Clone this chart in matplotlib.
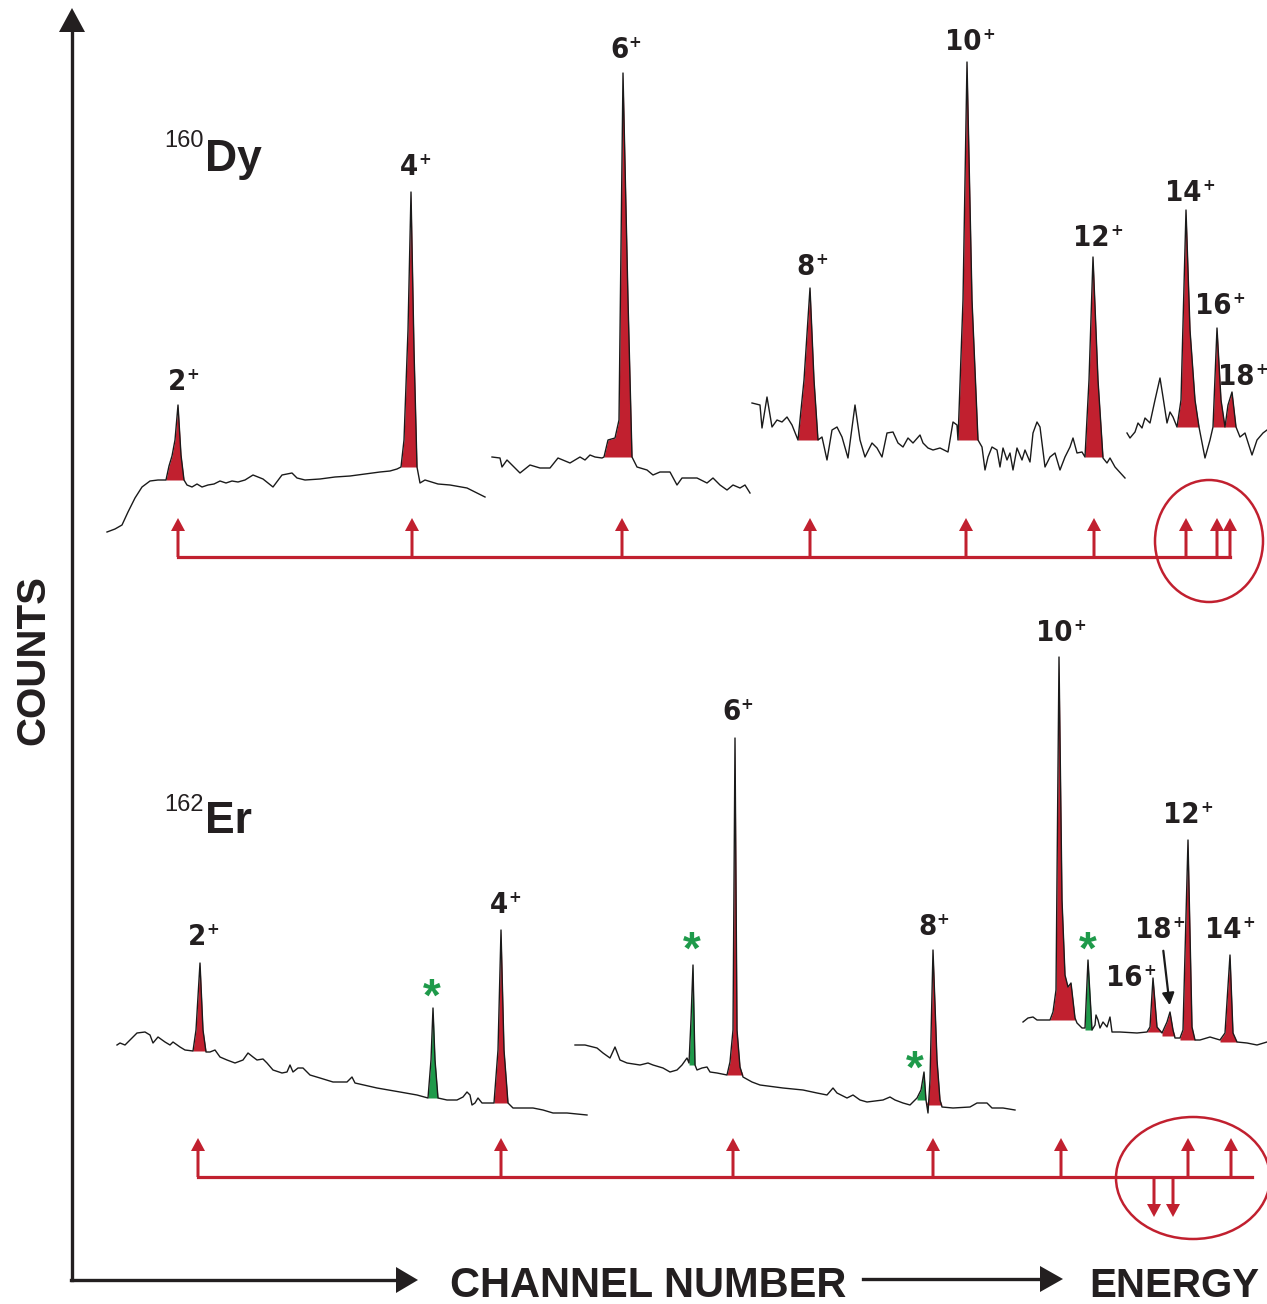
import numpy as np
import matplotlib.pyplot as plt
from matplotlib.patches import Ellipse

plt.rcParams['font.family'] = ['Liberation Sans', 'DejaVu Sans']

RED = '#c1202f'
GREEN = '#1e9a4a'
INK = '#231f20'

# --- 160Dy spectrum (picture units: x = channel, y = counts drawn downward) ---
dy_seg1_x = [107, 115, 122, 128, 135, 142, 150, 158, 166, 169, 172, 175, 178, 181, 184,
             187, 192, 197, 202, 208, 214, 220, 226, 232, 238, 245, 253, 263, 273, 282, 292,
             297, 305, 320, 335, 350, 365, 380, 390, 397, 401, 404, 408, 411, 414, 417,
             420, 425, 438, 450, 467, 477, 485]
dy_seg1_y = [532, 529, 525, 512, 498, 487, 481, 480, 480, 466, 456, 440, 405, 455, 480,
             485, 487, 484, 487, 485, 484, 481, 483, 481, 482, 480, 475, 479, 487, 475, 473,
             478, 480, 479, 477, 476, 474, 472, 471, 469, 467, 440, 330, 192, 350, 467,
             483, 480, 484, 485, 488, 493, 497]

dy_seg2_x = [492, 500, 502, 507, 520, 530, 540, 550, 558, 570, 580, 585, 590, 595, 602,
             604, 608, 615, 619, 623, 628, 632, 637, 647, 653, 660, 670, 677, 682, 697,
             707, 713, 720, 727, 733, 740, 745, 750]
dy_seg2_y = [457, 458, 467, 460, 473, 465, 468, 468, 458, 463, 457, 460, 455, 457, 458,
             457, 440, 438, 420, 73, 300, 457, 467, 470, 475, 472, 472, 485, 478, 478,
             483, 478, 485, 490, 485, 488, 485, 493]

dy_seg3_x = [752, 760, 762, 767, 772, 777, 782, 787, 792, 798, 804, 810, 814, 818,
             822, 827, 832, 837, 842, 848, 855, 860, 865, 872, 877, 882, 887, 893, 898, 903,
             908, 913, 920, 923, 928, 933, 940, 948, 953, 957, 958, 963, 967, 972, 978,
             982, 985, 988, 992, 997, 1000, 1003, 1007, 1010, 1013, 1017, 1022, 1025, 1030,
             1033, 1037, 1040, 1045, 1050, 1055, 1060, 1065, 1070, 1073, 1077, 1082, 1085,
             1089, 1093, 1098, 1103, 1107, 1110, 1115, 1125]
dy_seg3_y = [403, 405, 428, 397, 427, 420, 422, 417, 425, 440, 380, 288, 380, 440,
             437, 460, 430, 427, 437, 458, 405, 440, 457, 443, 448, 457, 433, 432, 443, 447,
             438, 443, 435, 443, 448, 450, 448, 452, 422, 425, 440, 300, 62, 300, 440,
             447, 470, 457, 447, 450, 467, 448, 460, 453, 470, 448, 460, 450, 462,
             433, 422, 427, 467, 457, 453, 470, 457, 447, 438, 453, 452, 457,
             380, 257, 380, 458, 463, 458, 467, 478]

dy_seg4_x = [1127, 1130, 1135, 1138, 1142, 1145, 1150, 1155, 1160, 1163, 1167, 1170, 1173,
             1177, 1181, 1186, 1190, 1195, 1199, 1205, 1210, 1213, 1217, 1221, 1225, 1228,
             1232, 1236, 1240, 1245, 1252, 1257, 1263, 1267]
dy_seg4_y = [433, 438, 432, 423, 428, 418, 423, 400, 378, 397, 423, 412, 417,
             427, 400, 210, 330, 400, 427, 458, 440, 427, 328, 400, 427, 405,
             392, 427, 437, 433, 455, 440, 433, 430]

dy_segments = [(dy_seg1_x, dy_seg1_y), (dy_seg2_x, dy_seg2_y),
               (dy_seg3_x, dy_seg3_y), (dy_seg4_x, dy_seg4_y)]

dy_peak_lo = [166, 401, 604, 798, 958, 1085, 1177, 1213, 1225]
dy_peak_hi = [184, 417, 632, 818, 978, 1103, 1199, 1225, 1236]
dy_peak_base = [480, 467, 457, 440, 440, 457, 427, 427, 427]

dy_labels = ['2', '4', '6', '8', '10', '12', '14', '16', '18']
dy_label_x = [177, 409, 619, 806, 963, 1091, 1183, 1213, 1236]
dy_label_y = [382, 167, 50, 267, 42, 238, 193, 306, 377]

dy_arrow_x = [178, 412, 622, 810, 966, 1094, 1186, 1217, 1230]

# --- 162Er spectrum ---
er_seg1_x = [117, 120, 125, 132, 137, 145, 150, 153, 158, 165, 170, 173, 180, 185, 193,
             196, 200, 203, 206, 210, 215, 220, 227, 235, 243, 248, 253, 257, 263, 267,
             273, 282, 287, 290, 293, 298, 303, 310, 320, 333, 347, 352, 355, 377, 400,
             417, 428, 431, 433, 435, 438, 447, 457, 463, 467, 470, 472, 475, 478, 482,
             494, 498, 501, 504, 508, 513, 533, 543, 553, 567, 587]
er_seg1_y = [1045, 1043, 1045, 1038, 1033, 1032, 1035, 1043, 1037, 1042, 1045, 1042, 1047,
             1050, 1051, 1030, 963, 1030, 1052, 1052, 1050, 1057, 1060, 1063, 1060, 1053,
             1057, 1060, 1059, 1063, 1070, 1073, 1072, 1065, 1072, 1068, 1068, 1075, 1078,
             1082, 1082, 1077, 1083, 1088, 1092, 1095, 1098, 1060, 1008, 1060, 1098, 1100,
             1100, 1097, 1092, 1095, 1105, 1103, 1098, 1103, 1103, 1050, 930, 1050, 1103,
             1108, 1108, 1110, 1113, 1113, 1115]

er_seg2_x = [575, 585, 597, 603, 610, 615, 620, 627, 640, 648, 653, 663, 670, 677, 682,
             687, 689, 691, 693, 695, 697, 702, 707, 710, 717, 727, 730, 733, 735, 737,
             740, 743, 752, 760, 783, 803, 817, 827, 833, 837, 847, 853, 860, 867, 883,
             890, 895, 903, 910, 917, 921, 924, 926, 928, 930, 933, 937, 940, 942, 953,
             970, 977, 987, 992, 1003, 1015]
er_seg2_y = [1045, 1045, 1048, 1053, 1058, 1047, 1060, 1063, 1065, 1063, 1065, 1068, 1072,
             1070, 1065, 1058, 1063, 1020, 965, 1065, 1070, 1068, 1067, 1072, 1073, 1075,
             1062, 1030, 738, 1030, 1067, 1077, 1082, 1085, 1088, 1090, 1093, 1095, 1088,
             1093, 1098, 1095, 1100, 1102, 1100, 1097, 1100, 1103, 1105, 1098, 1090, 1072,
             1100, 1113, 1080, 950, 1060, 1100, 1107, 1108, 1107, 1103, 1103, 1108, 1108,
             1110]

er_seg3_x = [1023, 1028, 1033, 1037, 1050, 1053, 1056, 1059, 1062, 1065, 1068, 1071, 1075,
             1077, 1082, 1085, 1088, 1092, 1095, 1096, 1098, 1100, 1103, 1107, 1110, 1112,
             1120, 1137, 1147, 1150, 1153, 1157, 1162, 1167, 1170, 1173, 1175, 1180, 1183,
             1188, 1192, 1195, 1200, 1210, 1220, 1225, 1230, 1233, 1237, 1247, 1257, 1267]
er_seg3_y = [1022, 1018, 1017, 1020, 1020, 1012, 990, 657, 900, 975, 987, 983, 1018,
             1023, 1028, 1028, 960, 1030, 1025, 1015, 1020, 1028, 1022, 1027, 1017, 1032,
             1032, 1033, 1032, 1027, 978, 1027, 1033, 1022, 1012, 1030, 1038, 1038, 1030,
             840, 1027, 1040, 1040, 1037, 1040, 1033, 955, 1033, 1042, 1043, 1045, 1042]

er_segments = [(er_seg1_x, er_seg1_y), (er_seg2_x, er_seg2_y), (er_seg3_x, er_seg3_y)]

er_peak_lo = [193, 428, 494, 689, 727, 917, 926, 1050, 1085, 1147, 1162, 1180, 1220]
er_peak_hi = [206, 438, 508, 695, 743, 926, 942, 1075, 1092, 1162, 1175, 1195, 1237]
er_peak_base = [1051, 1098, 1103, 1065, 1075, 1100, 1105, 1020, 1030, 1032, 1036, 1040, 1042]
er_peak_green = [False, True, False, True, False, True, False, False, True, False, False,
                 False, False]

er_labels = ['2', '4', '6', '8', '10', '12', '14', '16', '18']
er_label_x = [197, 499, 731, 927, 1054, 1181, 1223, 1124, 1153]
er_label_y = [937, 905, 712, 927, 633, 815, 930, 978, 930]

er_star_x = [432, 692, 915, 1088]
er_star_y = [990, 943, 1062, 943]

er_up_x = [198, 501, 733, 933, 1061, 1188, 1231]
er_down_x = [1154, 1173]


fig = plt.figure(figsize=(12.67, 13.04), dpi=100)
ax = fig.add_axes([0, 0, 1, 1])
ax.set_xlim(0, 1267)
ax.set_ylim(1304, 0)
ax.axis('off')


def draw_spectrum(segments, lo, hi, base, colors):
    for sx, sy in segments:
        sx = np.array(sx, dtype=float)
        sy = np.array(sy, dtype=float)
        for l, h, b, c in zip(lo, hi, base, colors):
            m = (sx >= l) & (sx <= h)
            if m.sum() >= 2:
                ax.fill_between(sx[m], np.minimum(sy[m], b), b, color=c, lw=0, zorder=2)
        ax.plot(sx, sy, color='#1a1a1a', lw=1.0, zorder=3)


def peak_label(x, y, n):
    t = ax.text(x, y, n, ha='center', va='center', fontsize=21, fontweight='bold',
                family='DejaVu Sans', fontstretch='condensed', color=INK)
    ax.annotate('+', xy=(1.0, 0.78), xycoords=t, xytext=(0.5, 0),
                textcoords='offset points', ha='left', va='center', fontsize=11,
                fontweight='bold', family='DejaVu Sans', color=INK)


def red_arrow(x, y0, y1):
    ax.arrow(x, y0, 0, y1 - y0, width=3, head_width=14, head_length=13,
             length_includes_head=True, color=RED, lw=0, zorder=4)


# spectra
draw_spectrum(dy_segments, dy_peak_lo, dy_peak_hi, dy_peak_base, [RED] * len(dy_peak_lo))
draw_spectrum(er_segments, er_peak_lo, er_peak_hi, er_peak_base,
              [GREEN if g else RED for g in er_peak_green])

for x, y, n in zip(dy_label_x, dy_label_y, dy_labels):
    peak_label(x, y, n)
for x, y, n in zip(er_label_x, er_label_y, er_labels):
    peak_label(x, y, n)

for x, y in zip(er_star_x, er_star_y):
    ax.text(x, y + 9, '*', ha='center', va='center', fontsize=33, fontweight='bold',
            color=GREEN)

ax.annotate('', xy=(1170, 1008), xytext=(1163, 948),
            arrowprops=dict(arrowstyle='-|>', color='#1a1a1a', lw=1.6, mutation_scale=18))

# isotope names
ax.text(204, 147, '160', ha='right', va='baseline', fontsize=17, color=INK)
ax.text(205, 171, 'Dy', ha='left', va='baseline', fontsize=32, fontweight='bold',
        color=INK)
ax.text(204, 811, '162', ha='right', va='baseline', fontsize=17, color=INK)
ax.text(205, 833, 'Er', ha='left', va='baseline', fontsize=32, fontweight='bold',
        color=INK)

# level-scheme lines with transition arrows
ax.plot([dy_arrow_x[0], max(dy_arrow_x)], [557, 557], color=RED, lw=2.3, zorder=4)
for x in dy_arrow_x:
    red_arrow(x, 557, 518)
ax.add_patch(Ellipse((1209, 541), 108, 122, fill=False, ec=RED, lw=1.8))

ax.plot([er_up_x[0], 1252], [1177, 1177], color=RED, lw=2.3, zorder=4)
for x in er_up_x:
    red_arrow(x, 1177, 1138)
for x in er_down_x:
    red_arrow(x, 1177, 1217)
ax.add_patch(Ellipse((1193, 1178), 154, 122, fill=False, ec=RED, lw=1.8))

# axes arrows
ax.plot([72, 72], [1280, 30], color=INK, lw=2.4)
ax.plot([71, 400], [1280, 1280], color=INK, lw=2.4)
ax.arrow(72, 40, 0, -32, width=0, head_width=26, head_length=24,
         length_includes_head=True, color=INK, lw=0)
ax.arrow(390, 1280, 28, 0, width=0, head_width=26, head_length=22,
         length_includes_head=True, color=INK, lw=0)
ax.plot([863, 1045], [1279, 1279], color=INK, lw=2.4)
ax.arrow(1035, 1279, 28, 0, width=0, head_width=26, head_length=23,
         length_includes_head=True, color=INK, lw=0)

ax.text(648, 1297, 'CHANNEL NUMBER', ha='center', va='baseline', fontsize=30,
        fontweight='bold', color=INK)
ax.text(1089, 1297, 'ENERGY', ha='left', va='baseline', fontsize=29,
        fontweight='bold', color=INK)
ax.text(33, 660, 'COUNTS', ha='center', va='center', rotation=90, fontsize=29,
        fontweight='bold', color=INK)

fig.savefig('out.png', dpi=100)
